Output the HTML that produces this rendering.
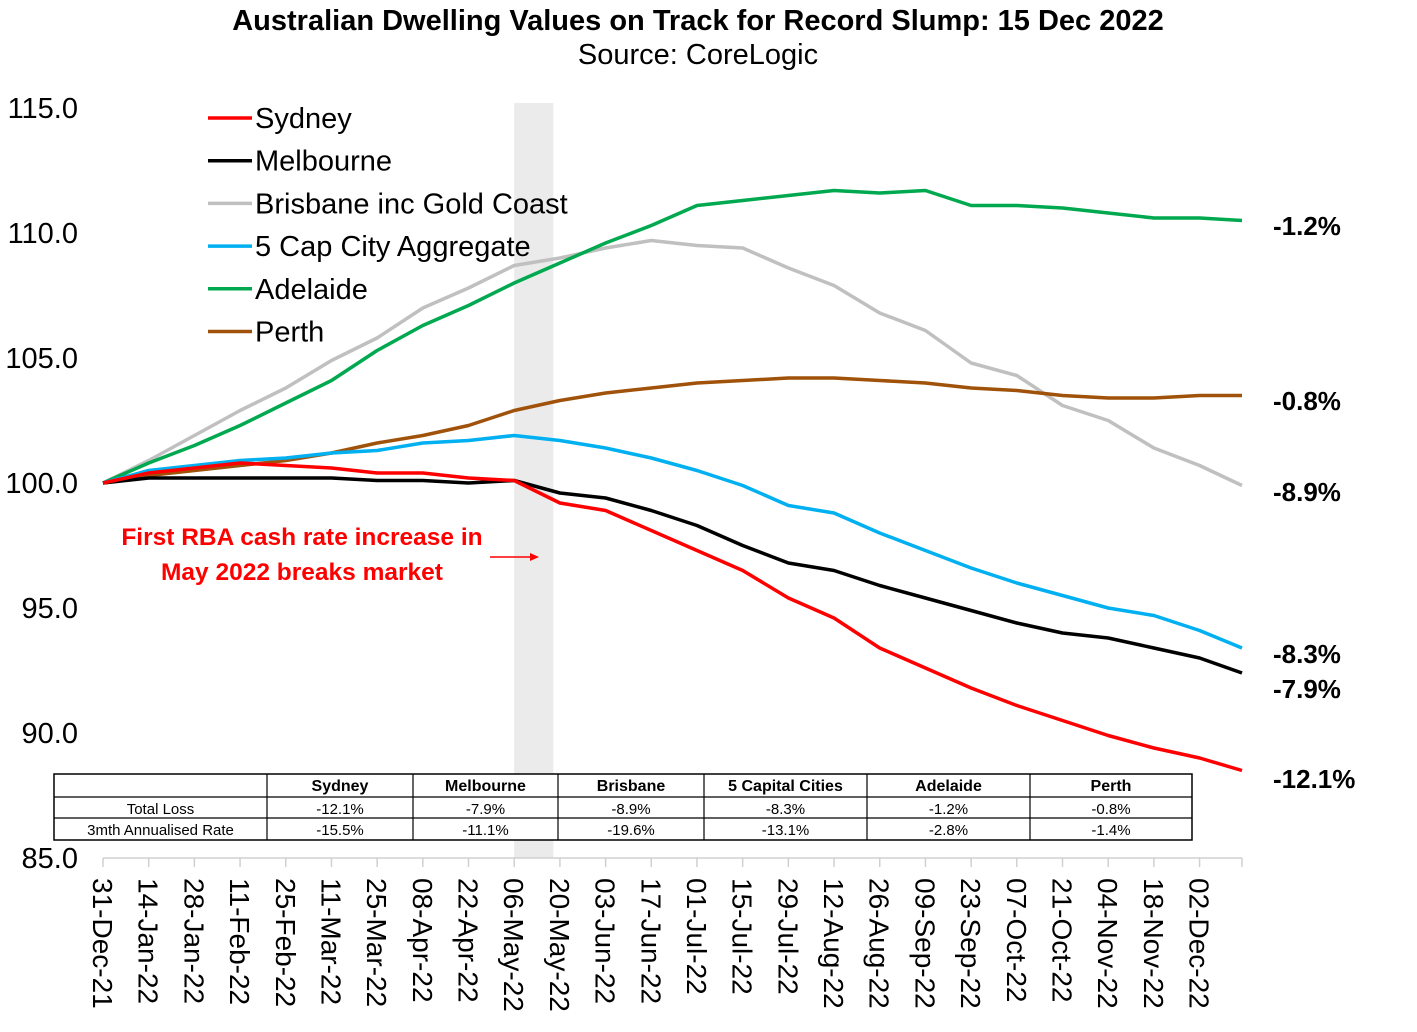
<!DOCTYPE html>
<html><head><meta charset="utf-8"><style>
body{margin:0;background:#fff;}
svg text{font-family:"Liberation Sans",Arial,sans-serif;}
</style></head><body>
<svg id="chart" width="1417" height="1027" viewBox="0 0 1417 1027" xmlns="http://www.w3.org/2000/svg">
<text x="698" y="30" text-anchor="middle" font-size="29" font-weight="bold">Australian Dwelling Values on Track for Record Slump: 15 Dec 2022</text>
<text x="698" y="64" text-anchor="middle" font-size="29">Source: CoreLogic</text>
<g id="shade"></g>
<g id="axes"></g>
<g id="lines"></g>
<g id="legend"></g>
<g id="endlabels"></g>
<text x="302" y="545" text-anchor="middle" font-size="24.5" font-weight="bold" fill="#f00">First RBA cash rate increase in</text>
<text x="302" y="580" text-anchor="middle" font-size="24.5" font-weight="bold" fill="#f00">May 2022 breaks market</text>
<g><line x1="490" y1="557" x2="532" y2="557" stroke="#f00" stroke-width="1.5"/><polygon points="539,557 530,553 530,561" fill="#f00"/></g>
<g id="table"></g>
</svg>
<script>
const dates=["31-Dec-21","14-Jan-22","28-Jan-22","11-Feb-22","25-Feb-22","11-Mar-22","25-Mar-22","08-Apr-22","22-Apr-22","06-May-22","20-May-22","03-Jun-22","17-Jun-22","01-Jul-22","15-Jul-22","29-Jul-22","12-Aug-22","26-Aug-22","09-Sep-22","23-Sep-22","07-Oct-22","21-Oct-22","04-Nov-22","18-Nov-22","02-Dec-22"];
const days=[0,14,28,42,56,70,84,98,112,126,140,154,168,182,196,210,224,238,252,266,280,294,308,322,336,349];
const yTicks=[85,90,95,100,105,110,115];
const sydney=[100,100.4,100.6,100.8,100.7,100.6,100.4,100.4,100.2,100.1,99.2,98.9,98.1,97.3,96.5,95.4,94.6,93.4,92.6,91.8,91.1,90.5,89.9,89.4,89.0,88.5];
const melbourne=[100,100.2,100.2,100.2,100.2,100.2,100.1,100.1,100.0,100.1,99.6,99.4,98.9,98.3,97.5,96.8,96.5,95.9,95.4,94.9,94.4,94.0,93.8,93.4,93.0,92.4];
const brisbane=[100,100.9,101.9,102.9,103.8,104.9,105.8,107.0,107.8,108.7,109.0,109.4,109.7,109.5,109.4,108.6,107.9,106.8,106.1,104.8,104.3,103.1,102.5,101.4,100.7,99.9];
const capCities=[100,100.5,100.7,100.9,101.0,101.2,101.3,101.6,101.7,101.9,101.7,101.4,101.0,100.5,99.9,99.1,98.8,98.0,97.3,96.6,96.0,95.5,95.0,94.7,94.1,93.4];
const adelaide=[100,100.8,101.5,102.3,103.2,104.1,105.3,106.3,107.1,108.0,108.8,109.6,110.3,111.1,111.3,111.5,111.7,111.6,111.7,111.1,111.1,111.0,110.8,110.6,110.6,110.5];
const perth=[100,100.3,100.5,100.7,100.9,101.2,101.6,101.9,102.3,102.9,103.3,103.6,103.8,104.0,104.1,104.2,104.2,104.1,104.0,103.8,103.7,103.5,103.4,103.4,103.5,103.5];
const seriesNames=["Sydney","Melbourne","Brisbane inc Gold Coast","5 Cap City Aggregate","Adelaide","Perth"];
const endLabels=["-12.1%","-7.9%","-8.9%","-8.3%","-1.2%","-0.8%"];
const tblCols=["","Sydney","Melbourne","Brisbane","5 Capital Cities","Adelaide","Perth"];
const tblLoss=["Total Loss","-12.1%","-7.9%","-8.9%","-8.3%","-1.2%","-0.8%"];
const tblRate=["3mth Annualised Rate","-15.5%","-11.1%","-19.6%","-13.1%","-2.8%","-1.4%"];

const NS="http://www.w3.org/2000/svg";
const X=d=>103+d*(1139/349);
const Y=v=>108+(115-v)*25;
function mk(tag,attrs,parent,txt){const e=document.createElementNS(NS,tag);for(const k in attrs)e.setAttribute(k,attrs[k]);if(txt!==undefined)e.textContent=txt;parent.appendChild(e);return e;}
const g=id=>document.getElementById(id);

let sh=mk('rect',{x:X(126),y:103,width:X(138)-X(126),height:755,fill:'#ebebeb'},g('shade'));



let ax=mk('line',{x1:103,y1:858,x2:1242,y2:858,stroke:'#d0d0d0','stroke-width':1.5},g('axes'));


yTicks.forEach(v=>{let t=mk('text',{x:78,y:Y(v)+10,'text-anchor':'end','font-size':29},g('axes'),v.toFixed(1));

});
dates.forEach((d,i)=>{const x=X(days[i]);
let tk=mk('line',{x1:x,y1:858,x2:x,y2:867,stroke:'#d0d0d0','stroke-width':1.5},g('axes'));


let t=mk('text',{x:0,y:0,'font-size':28,transform:`translate(${x-10},878) rotate(90)`},g('axes'),d);

});
let tk2=mk('line',{x1:1242,y1:858,x2:1242,y2:867,stroke:'#d0d0d0','stroke-width':1.5},g('axes'));



const data=[sydney,melbourne,brisbane,capCities,adelaide,perth];
const colors=["#ff0000","#000000","#c0c0c0","#00b0f0","#00a94f","#a0520a"];
const keys=["sydney","melbourne","brisbane","cap-cities","adelaide","perth"];
const order=[2,5,4,3,1,0];
order.forEach(i=>{const pts=data[i].map((v,j)=>X(days[j]).toFixed(1)+','+Y(v).toFixed(1)).join(' ');
let p=mk('polyline',{points:pts,fill:'none',stroke:colors[i],'stroke-width':3.5,'stroke-linejoin':'round'},g('lines'));

});

seriesNames.forEach((n,i)=>{const y=118+i*42.7;
let gg=mk('g',{},g('legend'));


mk('line',{x1:208,y1:y,x2:252,y2:y,stroke:colors[i],'stroke-width':3.5},gg);
mk('text',{x:255,y:y+10,'font-size':29},gg,n);});

const endY=[779,689,492,654,226,401];
endLabels.forEach((l,i)=>{let t=mk('text',{x:1273,y:endY[i]+9,'font-size':26,'font-weight':'bold'},g('endlabels'),l);

});

const cx=[54,267,413,558,704,867,1030,1192];
const ry=[774,797,818,840];
const tb=g('table');


mk('rect',{x:54,y:774,width:1138,height:66,fill:'#fff',stroke:'#000','stroke-width':1.5},tb);
ry.slice(1,3).forEach(y=>mk('line',{x1:54,y1:y,x2:1192,y2:y,stroke:'#000','stroke-width':1.2},tb));
cx.slice(1,7).forEach(x=>mk('line',{x1:x,y1:774,x2:x,y2:840,stroke:'#000','stroke-width':1.2},tb));
[tblCols,tblLoss,tblRate].forEach((row,r)=>row.forEach((c,k)=>{
let t=mk('text',{x:(cx[k]+cx[k+1])/2,y:ry[r]+17,'text-anchor':'middle','font-size':r===0?16:15,'font-weight':r===0?'bold':'normal'},tb,c);

}));
</script>
</body></html>
